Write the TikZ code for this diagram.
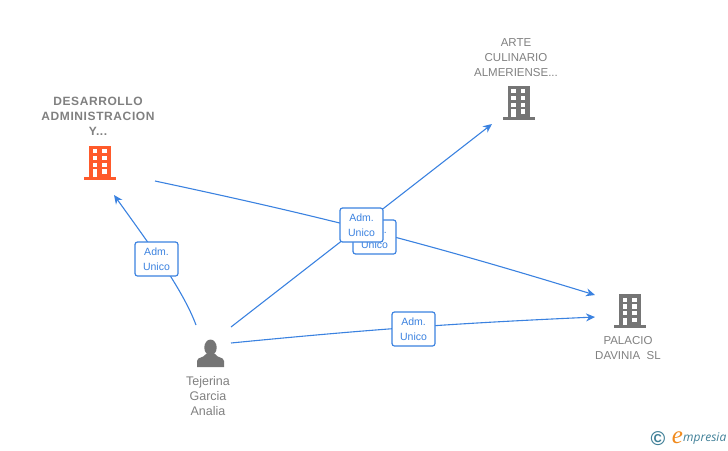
\documentclass[tikz,border=0pt]{standalone}
\usepackage{fontspec}
\setmainfont{Liberation Sans}
\newfontfamily\logofont{Open Sans}
\newfontfamily\logoefont{Liberation Serif}
\usetikzlibrary{arrows.meta}
\definecolor{linkblue}{HTML}{3B82E0}
\definecolor{labelgray}{HTML}{808080}
\definecolor{iconorange}{HTML}{FF5A2B}
\definecolor{icongray}{HTML}{757575}
\definecolor{logoblue}{HTML}{3F7F97}
\definecolor{logoorange}{HTML}{F08A1D}
\tikzset{
  link/.style={draw=linkblue,line width=1.1pt,-{Stealth[length=9pt,width=8pt]}},
  linkbox/.style={draw=linkblue,fill=white,rounded corners=2.5pt,line width=1.2pt,
    minimum width=43pt,minimum height=34pt,inner sep=0pt,align=center,
    text=linkblue,font=\fontsize{10.5}{15.5}\selectfont},
  title/.style={text=labelgray,align=center,font=\fontsize{11.5}{15}\selectfont},
  boldtitle/.style={title,font=\fontsize{12}{15}\bfseries\selectfont\addfontfeature{LetterSpace=5}},
  pics/building/.style={code={
    \fill[#1] (-11,-17) rectangle (11,15);
    \fill[#1] (-16,14) rectangle (16,17);
    \foreach \y in {-13.5,-6.7,0} {
      \fill[white] (-7.3,\y) rectangle +(4.6,4.3);
      \fill[white] (2,\y) rectangle +(4.6,4.3);
    }
    \fill[white] (-7.3,6.7) rectangle (-2.7,14);
    \fill[white] (2,6.7) rectangle (6.6,11);
  }}
}
\begin{document}
\begin{tikzpicture}[x=1pt,y=-1pt]
        \useasboundingbox (0,0) rectangle (728,450);

        \coordinate (tejerinaN) at (196,325);
        \coordinate (tejerinaNE) at (231,327);
        \coordinate (tejerinaE) at (231,343);
        \coordinate (desarrolloS) at (114,195);
        \coordinate (desarrolloE) at (155,181);
        \coordinate (arteS) at (492,124);
        \coordinate (palacioA) at (595,295);
        \coordinate (palacioB) at (595,317);

        \draw[link] (tejerinaN) .. controls (183,290) and (150,245) .. (desarrolloS);
        \draw[link] (desarrolloE) to[bend left=2.5] (palacioA);
        \draw[link] (tejerinaNE) -- (arteS);
        \draw[link] (tejerinaE) to[bend left=1.5] (palacioB);

        \node[linkbox] (admA) at (156.5,259) {Adm.\\Unico};
        \node[linkbox] (admB) at (413.5,329) {Adm.\\Unico};
        \node[linkbox] (admC) at (374.5,237) {Adm.\\Unico};
        \node[linkbox] (admD) at (361.5,225) {Adm.\\Unico};

        \pic at (100,162.5) {building=iconorange};
        \pic at (518.5,102.5) {building=icongray};
        \pic at (630,311) {building=icongray};

        \node[boldtitle] (desarrollo) at (98,116) {DESARROLLO\\ADMINISTRACION\\Y...};
        \node[title] (arte) at (516,58) {ARTE\\CULINARIO\\ALMERIENSE...};
        \node[title] (palacio) at (628,348.5) {PALACIO\\DAVINIA\ \ SL};
        \node[title,font=\fontsize{12.5}{15}\selectfont] (tejerina) at (208,396.5) {Tejerina\\Garcia\\Analia};

        % person
        \fill[icongray] (210.5,347.5) ellipse (6.2 and 8);
        \fill[icongray] (197,367) -- (197,361) .. controls (197,357) and (204,358) .. (206,354)
          -- (215,354) .. controls (217,358) and (224,357) .. (224,361) -- (224,367) -- cycle;

        % logo
        \node[text=logoblue,inner sep=0pt,font=\fontsize{20}{20}\bfseries\selectfont] (copy) at (658,438.5) {\textcopyright};
        \node[text=logoorange,font=\logoefont\itshape\fontsize{25}{25}\selectfont,inner sep=0pt] (logoe) at (677.5,438) {e};
        \node[text=logoblue,anchor=west,font=\logofont\itshape\fontsize{12}{12}\selectfont,inner sep=0pt] (logotext) at (683,439) {mpresia};
\end{tikzpicture}
\end{document}
